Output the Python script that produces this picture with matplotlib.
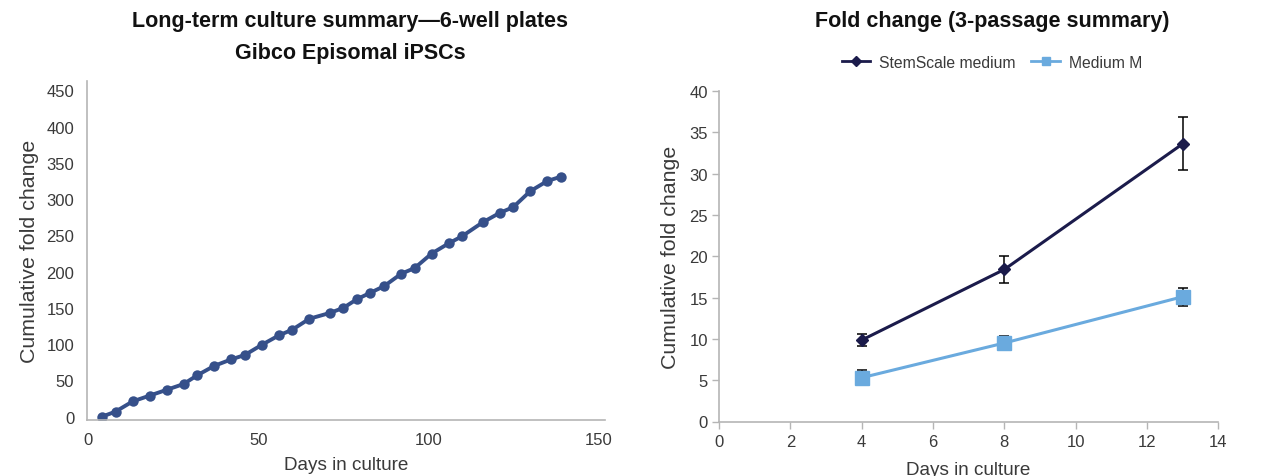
import matplotlib
matplotlib.use("Agg")
import matplotlib.pyplot as plt
from matplotlib.lines import Line2D

plt.rcParams['font.family'] = ['Liberation Sans', 'DejaVu Sans']

# Left chart data
days_long = [4, 8, 13, 18, 23, 28, 32, 37, 42, 46, 51, 56, 60, 65, 71, 75, 79,
             83, 87, 92, 96, 101, 106, 110, 116, 121, 125, 130, 135, 139]
fold_long = [0, 7, 21, 29, 37, 45, 57, 70, 79, 85, 99, 112, 120, 135, 143, 150,
             162, 171, 180, 197, 205, 225, 239, 249, 268, 281, 289, 311, 325, 331]

# Right chart data
days_short = [4, 8, 13]
stemscale = [9.85, 18.4, 33.6]
stemscale_err = [0.72, 1.6, 3.2]
medium_m = [5.3, 9.5, 15.1]
medium_m_err = [0.9, 0.8, 1.1]

left_ticks_y = [0, 50, 100, 150, 200, 250, 300, 350, 400, 450]
left_ticks_x = [0, 50, 100, 150]
right_ticks_y = [0, 5, 10, 15, 20, 25, 30, 35, 40]
right_ticks_x = [0, 2, 4, 6, 8, 10, 12, 14]

W, H = 1274, 477
fig = plt.figure(figsize=(W / 100, H / 100), dpi=100)

spine_col = '#b5b5b5'
text_col = '#3a3a3a'
title_col = '#111111'
c_left = '#36508a'
c_stem = '#1b1b4b'
c_medm = '#6aaade'

# ---- Left axes
ax1 = fig.add_axes([86.7 / W, 1 - 421 / H, (605 - 86.7) / W, (421 - 82) / H])
ax1.plot(days_long, fold_long, color=c_left, lw=2.8, marker='o', ms=7.5,
         markeredgewidth=0)
ax1.set_xlim(-0.5, 152)
ax1.set_ylim(-4.6, 463)
ax1.set_xticks(left_ticks_x)
ax1.set_yticks(left_ticks_y)
for s in ['top', 'right']:
    ax1.spines[s].set_visible(False)
for s in ['left', 'bottom']:
    ax1.spines[s].set_color(spine_col)
    ax1.spines[s].set_linewidth(1.2)
ax1.tick_params(axis='both', length=0, labelsize=12, colors=text_col)
ax1.tick_params(axis='x', pad=9)
ax1.tick_params(axis='y', pad=9)
ax1.set_xlabel('Days in culture', fontsize=13.6, color=text_col, labelpad=6)
ax1.set_ylabel('Cumulative fold change', fontsize=15.4, color=text_col, labelpad=5)
fig.text(350 / W, 1 - 22 / H, 'Long-term culture summary\u20146-well plates',
         ha='center', va='center', fontsize=15.5, fontweight='bold', color=title_col)
fig.text(350 / W, 1 - 53 / H, 'Gibco Episomal iPSCs',
         ha='center', va='center', fontsize=15.5, fontweight='bold', color=title_col)

# ---- Right axes
ax2 = fig.add_axes([719 / W, 1 - 422.5 / H, (1218.3 - 719) / W, (422.5 - 92) / H])
ax2.errorbar(days_short, stemscale, yerr=stemscale_err, fmt='none',
             ecolor='black', elinewidth=1.1, capsize=3.5, capthick=1.1, zorder=2)
ax2.errorbar(days_short, medium_m, yerr=medium_m_err, fmt='none',
             ecolor='black', elinewidth=1.1, capsize=3.5, capthick=1.1, zorder=2)
ax2.plot(days_short, stemscale, color=c_stem, lw=2.2, marker='D', ms=6.5,
         zorder=3, label='StemScale medium')
ax2.plot(days_short, medium_m, color=c_medm, lw=2.2, marker='s', ms=9.5,
         zorder=3, label='Medium M')
ax2.set_xlim(0, 14)
ax2.set_ylim(0, 40)
ax2.set_xticks(right_ticks_x)
ax2.set_yticks(right_ticks_y)
for s in ['top', 'right']:
    ax2.spines[s].set_visible(False)
for s in ['left', 'bottom']:
    ax2.spines[s].set_color(spine_col)
    ax2.spines[s].set_linewidth(1.2)
ax2.tick_params(axis='both', length=5, width=1, labelsize=12,
                colors=text_col)
ax2.tick_params(axis='both', color=spine_col)
ax2.tick_params(axis='x', pad=4)
ax2.tick_params(axis='y', pad=3)
ax2.set_xlabel('Days in culture', fontsize=13.6, color=text_col, labelpad=9)
ax2.set_ylabel('Cumulative fold change', fontsize=15.4, color=text_col, labelpad=7)
fig.text(992 / W, 1 - 22 / H, 'Fold change (3-passage summary)',
         ha='center', va='center', fontsize=15.5, fontweight='bold', color=title_col)

h1 = Line2D([], [], color=c_stem, lw=2, marker='D', ms=5)
h2 = Line2D([], [], color=c_medm, lw=2, marker='s', ms=6)
fig.legend([h1, h2], ['StemScale medium', 'Medium M'], loc='center',
           bbox_to_anchor=(992 / W, 1 - 63 / H), ncol=2, frameon=False,
           fontsize=11.3, handlelength=1.8, columnspacing=1.0, handletextpad=0.6,
           labelcolor=text_col)

fig.savefig('out.png', dpi=100)
